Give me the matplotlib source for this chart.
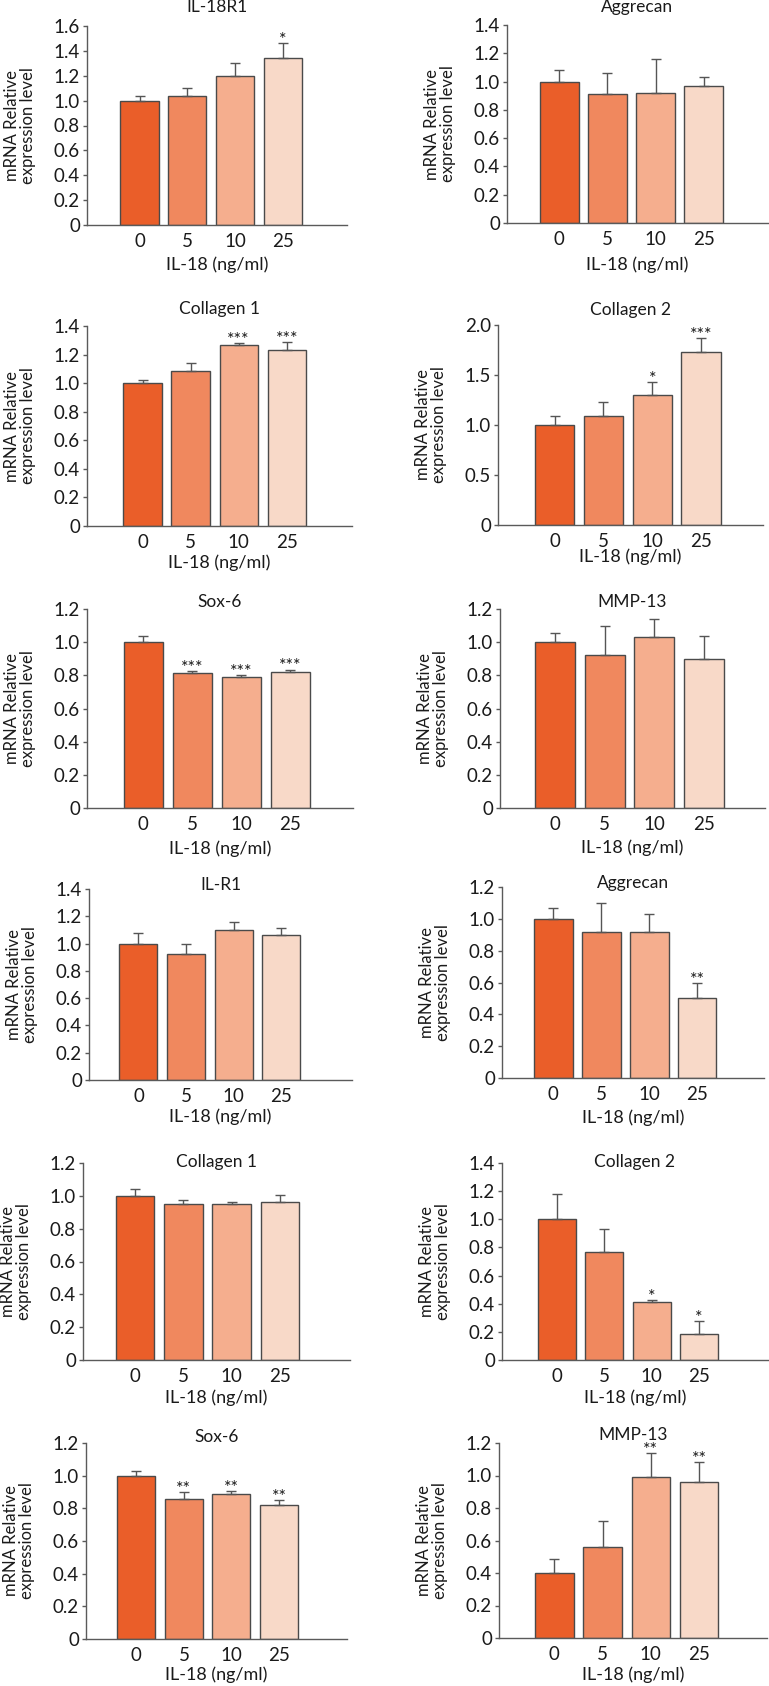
import matplotlib
matplotlib.use("Agg")
import matplotlib.pyplot as plt

plt.rcParams['font.family'] = ['Lato', 'DejaVu Sans']

# ---------------- data ----------------
doses = ["0", "5", "10", "25"]
xlabel_text = "IL-18 (ng/ml)"
ylabel_text = "mRNA Relative\nexpression level"

titles = ["IL-18R1", "Aggrecan", "Collagen 1", "Collagen 2", "Sox-6", "MMP-13",
          "IL-R1", "Aggrecan", "Collagen 1", "Collagen 2", "Sox-6", "MMP-13"]

means_il18r1_a = [1.00, 1.04, 1.20, 1.34]
err_il18r1_a = [0.04, 0.065, 0.10, 0.125]
sig_il18r1_a = ["", "", "", "*"]

means_aggrecan_a = [1.00, 0.915, 0.92, 0.97]
err_aggrecan_a = [0.08, 0.145, 0.24, 0.06]
sig_aggrecan_a = ["", "", "", ""]

means_col1_a = [1.00, 1.085, 1.265, 1.23]
err_col1_a = [0.02, 0.055, 0.015, 0.06]
sig_col1_a = ["", "", "***", "***"]

means_col2_a = [1.00, 1.09, 1.30, 1.735]
err_col2_a = [0.09, 0.145, 0.13, 0.135]
sig_col2_a = ["", "", "*", "***"]

means_sox6_a = [1.00, 0.815, 0.79, 0.82]
err_sox6_a = [0.035, 0.01, 0.012, 0.015]
sig_sox6_a = ["", "***", "***", "***"]

means_mmp13_a = [1.00, 0.92, 1.03, 0.90]
err_mmp13_a = [0.055, 0.18, 0.11, 0.14]
sig_mmp13_a = ["", "", "", ""]

means_ilr1_b = [1.00, 0.92, 1.10, 1.06]
err_ilr1_b = [0.08, 0.08, 0.055, 0.055]
sig_ilr1_b = ["", "", "", ""]

means_aggrecan_b = [1.00, 0.915, 0.92, 0.505]
err_aggrecan_b = [0.07, 0.185, 0.11, 0.09]
sig_aggrecan_b = ["", "", "", "**"]

means_col1_b = [1.00, 0.95, 0.95, 0.965]
err_col1_b = [0.04, 0.025, 0.015, 0.04]
sig_col1_b = ["", "", "", ""]

means_col2_b = [1.00, 0.765, 0.41, 0.183]
err_col2_b = [0.18, 0.168, 0.018, 0.093]
sig_col2_b = ["", "", "*", "*"]

means_sox6_b = [1.00, 0.86, 0.885, 0.82]
err_sox6_b = [0.03, 0.04, 0.02, 0.03]
sig_sox6_b = ["", "**", "**", "**"]

means_mmp13_b = [0.40, 0.557, 0.99, 0.96]
err_mmp13_b = [0.087, 0.166, 0.147, 0.123]
sig_mmp13_b = ["", "", "**", "**"]

yticks_14 = [0, 0.2, 0.4, 0.6, 0.8, 1.0, 1.2, 1.4]
yticks_16 = [0, 0.2, 0.4, 0.6, 0.8, 1.0, 1.2, 1.4, 1.6]
yticks_12 = [0, 0.2, 0.4, 0.6, 0.8, 1.0, 1.2]
yticks_20 = [0, 0.5, 1.0, 1.5, 2.0]

panels = [
    (means_il18r1_a, err_il18r1_a, sig_il18r1_a, yticks_16),
    (means_aggrecan_a, err_aggrecan_a, sig_aggrecan_a, yticks_14),
    (means_col1_a, err_col1_a, sig_col1_a, yticks_14),
    (means_col2_a, err_col2_a, sig_col2_a, yticks_20),
    (means_sox6_a, err_sox6_a, sig_sox6_a, yticks_12),
    (means_mmp13_a, err_mmp13_a, sig_mmp13_a, yticks_12),
    (means_ilr1_b, err_ilr1_b, sig_ilr1_b, yticks_14),
    (means_aggrecan_b, err_aggrecan_b, sig_aggrecan_b, yticks_12),
    (means_col1_b, err_col1_b, sig_col1_b, yticks_12),
    (means_col2_b, err_col2_b, sig_col2_b, yticks_14),
    (means_sox6_b, err_sox6_b, sig_sox6_b, yticks_12),
    (means_mmp13_b, err_mmp13_b, sig_mmp13_b, yticks_12),
]

# ---------------- layout (pixels) ----------------
W, H = 769, 1686
# x0, x1, ytop, ybottom, xlim_left, xlim_right, title_offset_px, xlabel_offset_px
layout = [
    (87, 347, 26, 225, -1.10, 4.34, 19, 40),
    (507, 768, 25, 223, -1.09, 4.34, 18, 42),
    (87, 352, 326, 526, -1.16, 4.36, 17, 37),
    (498, 763, 325, 525, -1.16, 4.27, 15, 32),
    (87, 353, 609, 808, -1.15, 4.28, 7, 41),
    (500, 765, 609, 808, -1.11, 4.23, 7, 40),
    (89, 352, 889, 1080, -1.04, 4.49, 4, 37),
    (502, 764, 887, 1078, -1.07, 4.39, 4, 40),
    (83, 350, 1163, 1360, -1.08, 4.45, 1, 38),
    (502, 768, 1163, 1360, -1.15, 4.45, 1, 38),
    (86, 347, 1443, 1639, -1.06, 4.43, 6, 36),
    (499, 767, 1443, 1638, -1.15, 4.41, 8, 37),
]

bar_colors = ["#EA5E29", "#F0885E", "#F5AE8E", "#F8D9C8"]
edge_col = "#4a4a4a"
axis_col = "#5a5a5a"
text_col = "#1a1a1a"

fig = plt.figure(figsize=(W / 100, H / 100), dpi=100)
fig.patch.set_facecolor("white")

for i, ((means, errs, sigs, yticks), lay) in enumerate(zip(panels, layout)):
    x0, x1, yt, yb, xl, xr, toff, xoff = lay
    rect = [x0 / W, 1 - yb / H, (x1 - x0) / W, (yb - yt) / H]
    ax = fig.add_axes(rect)
    xs = list(range(len(doses)))
    ax.bar(xs, means, width=0.8, color=bar_colors, edgecolor=edge_col,
           linewidth=1.0, zorder=2)
    ax.errorbar(xs, means, yerr=[[0] * len(errs), errs], fmt="none",
                ecolor="#555555", elinewidth=1.0, capsize=3.6, capthick=1.0,
                zorder=3)
    for x, m, e, s in zip(xs, means, errs, sigs):
        if s:
            ax.annotate(s, xy=(x, m + e), xytext=(0, -3.5), textcoords="offset points",
                        ha="center", va="bottom", fontsize=13, color=text_col)
    ax.set_xlim(xl, xr)
    ax.set_ylim(0, yticks[-1])
    ax.set_yticks(yticks)
    ax.set_yticklabels(["0" if v == 0 else f"{v:.1f}" for v in yticks])
    ax.set_xticks(xs)
    ax.set_xticklabels(doses)
    for side in ("top", "right"):
        ax.spines[side].set_visible(False)
    for side in ("left", "bottom"):
        ax.spines[side].set_color(axis_col)
        ax.spines[side].set_linewidth(1.0)
    ax.spines["left"].set_zorder(4)
    ax.spines["bottom"].set_zorder(4)
    ax.tick_params(axis="y", length=3, width=1.0, color=axis_col, pad=2,
                   labelsize=13.5, labelcolor=text_col)
    ax.tick_params(axis="x", length=0, pad=6, labelsize=13.5, labelcolor=text_col)
    ax.set_facecolor("none")
    hpx = yb - yt
    ax.text(0.5, 1 + toff / hpx, titles[i], transform=ax.transAxes,
            ha="center", va="center", fontsize=12.5, color=text_col)
    ax.annotate(xlabel_text, xy=(0.5, 0), xycoords="axes fraction",
                xytext=(0, -xoff), textcoords="offset pixels",
                ha="center", va="center", fontsize=13, color=text_col)
    ax.annotate(ylabel_text, xy=(0, 0.5), xycoords="axes fraction",
                xytext=(-67, 0), textcoords="offset pixels",
                ha="center", va="center", rotation=90, fontsize=12,
                linespacing=0.95, multialignment="center", color=text_col)

fig.savefig("out.png", dpi=100, facecolor="white")
